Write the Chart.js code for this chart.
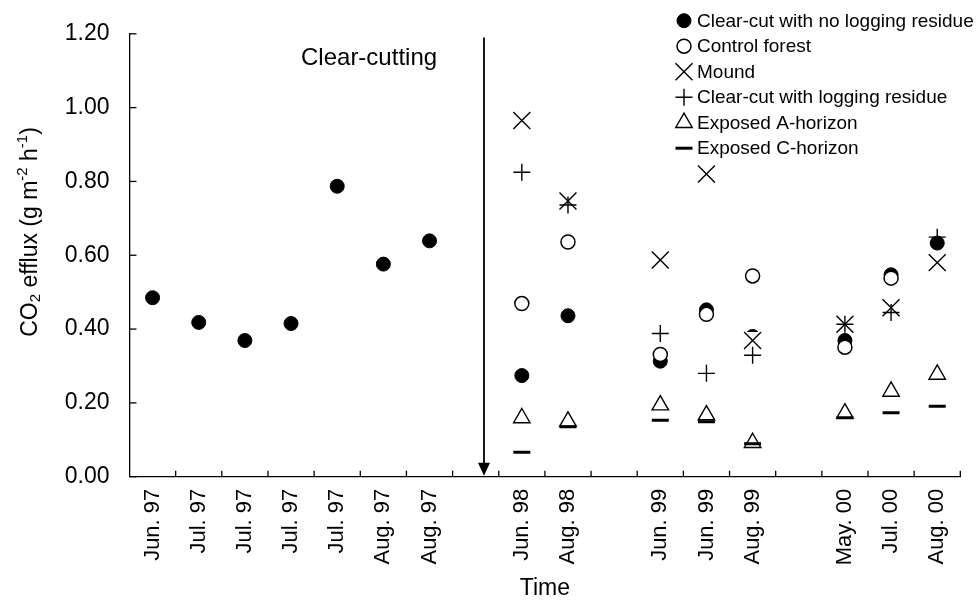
<!DOCTYPE html>
<html><head><meta charset="utf-8">
<script src="https://cdn.jsdelivr.net/npm/chart.js@4.4.0/dist/chart.umd.min.js"></script>
<style>html,body{margin:0;padding:0;background:#fff;}#wrap{width:976px;height:602px;position:relative;}</style>
</head><body><div id="wrap"><canvas id="c" width="976" height="602"></canvas></div>
<script>
// ---------- data ----------
const categories = ['Jun. 97','Jul. 97','Jul. 97','Jul. 97','Jul. 97','Aug. 97','Aug. 97','','Jun. 98','Aug. 98','','Jun. 99','Jun. 99','Aug. 99','','May. 00','Jul. 00','Aug. 00'];
const seriesNames = ['Clear-cut with no logging residue','Control forest','Mound','Clear-cut with logging residue','Exposed A-horizon','Exposed C-horizon'];
const clearCutNoResidue = [0.485,0.418,0.369,0.415,0.787,0.576,0.639,null,0.274,0.436,null,0.313,0.452,0.38,null,0.369,0.547,0.633];
const controlForest     = [null,null,null,null,null,null,null,null,0.469,0.636,null,0.331,0.44,0.544,null,0.351,0.538,null];
const mound             = [null,null,null,null,null,null,null,null,0.965,0.747,null,0.587,0.82,0.369,null,0.413,0.458,0.58];
const clearCutResidue   = [null,null,null,null,null,null,null,null,0.825,0.736,null,0.388,0.28,0.329,null,0.413,0.445,0.649];
const exposedA          = [null,null,null,null,null,null,null,null,0.159,0.15,null,0.194,0.167,0.092,null,0.172,0.231,0.277];
const exposedC          = [null,null,null,null,null,null,null,null,0.066,0.135,null,0.153,0.149,0.089,null,0.16,0.173,0.191];
const yTicks = [0,0.2,0.4,0.6,0.8,1.0,1.2];
const annotationText = 'Clear-cutting';
const arrowAt = 7.18;      // category position of the clear-cutting arrow
const arrowTop = 1.19;     // y value where the arrow starts
const annotationAt = [4.69, 1.133];
const xTitle = 'Time';

// ---------- styles ----------
const FONT = "'Liberation Sans', Arial, Helvetica, sans-serif";
const styles = [
  {pointStyle:'circle',   radius:7,   borderWidth:1,   bg:'#000'},
  {pointStyle:'circle',   radius:7,   borderWidth:1.5, bg:'#fff'},
  {pointStyle:'crossRot', radius:12,  borderWidth:1.4, bg:'#000', whiteBox:17},
  {pointStyle:'cross',    radius:8.5, borderWidth:1.4, bg:'#000'},
  {pointStyle:'triangle', radius:9.5, borderWidth:1.4, bg:'#fff'},
  {pointStyle:'line',     radius:8.5, borderWidth:3,   bg:'#000'}
];
const seriesData = [clearCutNoResidue, controlForest, mound, clearCutResidue, exposedA, exposedC];
const drawOrder = [6,5,4,3,2,1];

const datasets = seriesData.map((d,i)=>({
  label: seriesNames[i],
  data: d,
  showLine:false,
  order: drawOrder[i],
  pointStyle: styles[i].pointStyle,
  pointRadius: styles[i].radius,
  pointHoverRadius: styles[i].radius,
  pointBorderWidth: styles[i].borderWidth,
  pointBackgroundColor: styles[i].bg,
  pointBorderColor:'#000',
  borderColor:'#000',
  backgroundColor: styles[i].bg
}));

function drawRich(ctx, pieces, cx, cy){
  let total = 0;
  pieces.forEach(p=>{ ctx.font = p.size+'px '+FONT; p.w = ctx.measureText(p.t).width; total += p.w; });
  let x = cx - total/2;
  ctx.textBaseline = 'middle'; ctx.textAlign = 'left';
  pieces.forEach(p=>{ ctx.font = p.size+'px '+FONT; ctx.fillText(p.t, x, cy + (p.dy||0)); x += p.w; });
}

const decor = {
  id:'decor',
  beforeDatasetDraw(chart, args){
    const st = styles[args.index];
    if (!st || !st.whiteBox) return;
    const ctx = chart.ctx, h = st.whiteBox/2;
    ctx.save(); ctx.fillStyle = '#fff';
    args.meta.data.forEach(el=>{ if (!el.skip) ctx.fillRect(el.x-h, el.y-h, st.whiteBox, st.whiteBox); });
    ctx.restore();
  },
  afterDraw(chart){
    const ctx = chart.ctx, xs = chart.scales.x, ys = chart.scales.y, a = chart.chartArea;
    ctx.save();
    ctx.strokeStyle = '#000'; ctx.fillStyle = '#000'; ctx.lineWidth = 1.3;
    const step = xs.getPixelForValue(1) - xs.getPixelForValue(0);
    for (let i=1;i<=categories.length;i++){
      const px = xs.getPixelForValue(i) - step/2;
      ctx.beginPath(); ctx.moveTo(px, a.bottom); ctx.lineTo(px, a.bottom-6); ctx.stroke();
    }
    yTicks.forEach(v=>{
      const py = ys.getPixelForValue(v);
      ctx.beginPath(); ctx.moveTo(a.left, py); ctx.lineTo(a.left+7, py); ctx.stroke();
    });
    const p7 = xs.getPixelForValue(Math.floor(arrowAt)), p8 = xs.getPixelForValue(Math.floor(arrowAt)+1);
    const ax = p7 + (arrowAt-Math.floor(arrowAt))*(p8-p7);
    const atop = ys.getPixelForValue(arrowTop), abot = ys.getPixelForValue(0);
    ctx.lineWidth = 1.8;
    ctx.beginPath(); ctx.moveTo(ax, atop); ctx.lineTo(ax, abot-12); ctx.stroke();
    ctx.beginPath(); ctx.moveTo(ax-6, abot-14); ctx.lineTo(ax+6, abot-14); ctx.lineTo(ax, abot-1); ctx.closePath(); ctx.fill();
    const q0 = xs.getPixelForValue(Math.floor(annotationAt[0])), q1 = xs.getPixelForValue(Math.floor(annotationAt[0])+1);
    const tx = q0 + (annotationAt[0]-Math.floor(annotationAt[0]))*(q1-q0);
    ctx.font = '24px '+FONT; ctx.textAlign='center'; ctx.textBaseline='middle';
    ctx.fillText(annotationText, tx, ys.getPixelForValue(annotationAt[1]));
    ctx.font = '23px '+FONT;
    ctx.fillText(xTitle, (a.left+a.right)/2, 589);
    ctx.save();
    ctx.translate(31, 232); ctx.rotate(-Math.PI/2);
    drawRich(ctx, [
      {t:'CO', size:23},{t:'2', size:15, dy:5},{t:' efflux (g m', size:23},
      {t:'-2', size:15, dy:-8},{t:' h', size:23},{t:'-1', size:15, dy:-8},{t:')', size:23}
    ], 0, 0);
    ctx.restore();
    const lx = 684, tx0 = 697, ly0 = 20.7, lstep = 25.5;
    seriesNames.forEach((name,i)=>{
      const y = ly0 + i*lstep;
      ctx.fillStyle = styles[i].bg; ctx.strokeStyle = '#000'; ctx.lineWidth = styles[i].borderWidth;
      Chart.helpers.drawPoint(ctx, {pointStyle:styles[i].pointStyle, radius:styles[i].radius, borderWidth:styles[i].borderWidth, rotation:0}, lx, y);
      ctx.fillStyle = '#000';
      ctx.font = '19px '+FONT; ctx.textAlign='left'; ctx.textBaseline='middle';
      ctx.fillText(name, tx0, y+1);
    });
    ctx.restore();
  }
};

new Chart(document.getElementById('c'), {
  type:'line',
  data:{labels:categories, datasets},
  options:{
    responsive:false, animation:false, devicePixelRatio:1, events:[],
    layout:{padding:{left:0,right:13.3,top:26,bottom:0}},
    plugins:{legend:{display:false}, tooltip:{enabled:false}},
    scales:{
      x:{type:'category', offset:true,
         grid:{display:true, drawOnChartArea:false, drawTicks:false},
         border:{display:true, color:'#000', width:1.3},
         ticks:{autoSkip:false, minRotation:90, maxRotation:90, padding:12, color:'#000', font:{size:22, family:FONT}},
         afterFit(s){ s.height = 125.3; }},
      y:{min:0, max:1.2,
         grid:{display:true, drawOnChartArea:false, drawTicks:false},
         border:{display:true, color:'#000', width:1.3},
         afterBuildTicks(s){ s.ticks = yTicks.map(v=>({value:v})); },
         ticks:{padding:20, color:'#000', font:{size:23, family:FONT}, callback:(v)=>Number(v).toFixed(2)},
         afterFit(s){ s.width = 129.5; }}
    }
  },
  plugins:[decor]
});
</script></body></html>
